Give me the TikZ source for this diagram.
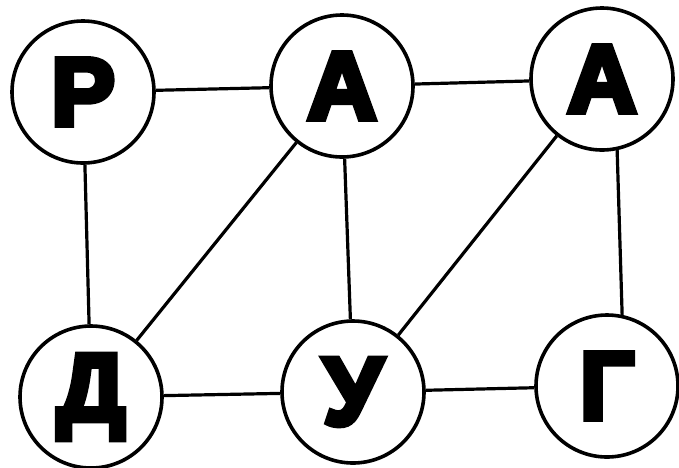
\documentclass[tikz,border=0pt]{standalone}
\usepackage{fontspec}
\newfontfamily\heavy{Liberation Sans}[FakeBold=6]
\begin{document}
\begin{tikzpicture}[x=1pt,y=-1pt,
  letter/.style={circle,draw=black,line width=3.6pt,minimum size=142pt,inner sep=0pt,
    font=\heavy\bfseries\fontsize{96}{96}\selectfont},
  link/.style={draw=black,line width=3.2pt}]
\useasboundingbox (0,0) rectangle (679,467);
\node[letter] (r)  at (83,92)  {Р};
\node[letter] (a1) at (342,86) {А};
\node[letter] (a2) at (602,79) {А};
\node[letter] (d)  at (91,397) {Д};
\node[letter] (u)  at (353,392) {У};
\node[letter] (g)  at (607,386) {Г};
\draw[link] (r) -- (a1);
\draw[link] (a1) -- (a2);
\draw[link] (r) -- (d);
\draw[link] (a1) -- (d);
\draw[link] (a1) -- (u);
\draw[link] (a2) -- (u);
\draw[link] (a2.-78) -- (g.78);
\draw[link] (d) -- (u);
\draw[link] (u) -- (g);
\end{tikzpicture}
\end{document}
